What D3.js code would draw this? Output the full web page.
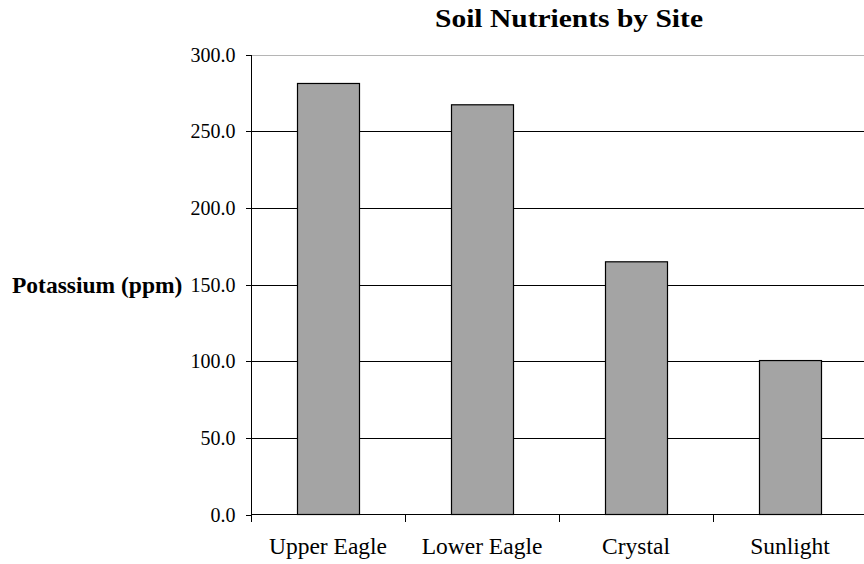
<!DOCTYPE html>
<html>
<head>
<meta charset="utf-8">
<script src="https://cdn.jsdelivr.net/npm/d3@7/dist/d3.min.js"></script>
<style>
  html, body { margin: 0; padding: 0; background: #fff; }
  svg { display: block; }
</style>
</head>
<body>
<svg id="chart" width="864" height="564"></svg>
<script>
// Potassium readings per sampling site
const sites = ["Upper Eagle", "Lower Eagle", "Crystal", "Sunlight"];
const potassium = [281.1, 267.2, 164.8, 100.4];
const yTicks = [0, 50, 100, 150, 200, 250, 300];
const chartTitle = "Soil Nutrients by Site";
const yTitle = "Potassium (ppm)";

const FONT = "'Liberation Serif', 'Times New Roman', Times, 'DejaVu Serif', serif";

const svg = d3.select("#chart");
const W = 864;

const x = d3.scaleBand()
  .domain(sites)
  .range([251, 867])
  .paddingInner(0.597)
  .paddingOuter(0.2985);

const y = d3.scaleLinear()
  .domain([0, 300])
  .range([514.5, 54.5]);

// horizontal gridlines
svg.append("g")
  .selectAll("line")
  .data(yTicks.filter(d => d > 0))
  .join("line")
  .attr("x1", 251).attr("x2", W)
  .attr("y1", d => Math.round(y(d)) + 0.5)
  .attr("y2", d => Math.round(y(d)) + 0.5)
  .attr("stroke", d => d === 300 ? "#b5b5b5" : "#000")
  .attr("stroke-width", 1)
  .attr("shape-rendering", "crispEdges");

// bars
svg.append("g")
  .selectAll("rect")
  .data(sites.map((s, i) => ({ site: s, value: potassium[i] })))
  .join("rect")
  .attr("x", d => Math.round(x(d.site)) + 0.5)
  .attr("y", d => y(d.value))
  .attr("width", Math.round(x.bandwidth()))
  .attr("height", d => y(0) - y(d.value))
  .attr("fill", "#a4a4a4")
  .attr("stroke", "#000")
  .attr("stroke-width", 1.2);

// y axis
const yAxis = d3.axisLeft(y)
  .tickValues(yTicks)
  .tickSize(6)
  .tickPadding(10)
  .tickFormat(d3.format(".1f"));

const gy = svg.append("g")
  .attr("transform", "translate(251.5,0)")
  .call(yAxis)
  .attr("font-family", null)
  .attr("font-size", null);
gy.select(".domain").remove();
gy.selectAll(".tick line").attr("stroke", "#000").attr("shape-rendering", "crispEdges");
gy.selectAll(".tick text")
  .style("font-family", FONT)
  .style("font-size", "20px")
  .attr("fill", "#000")
  .attr("dy", "0.34em");

// y axis line (runs a little below the baseline)
svg.append("line")
  .attr("x1", 251.5).attr("x2", 251.5)
  .attr("y1", y(300)).attr("y2", y(0) + 7)
  .attr("stroke", "#000")
  .attr("shape-rendering", "crispEdges");

// x axis line
svg.append("line")
  .attr("x1", 251).attr("x2", W)
  .attr("y1", y(0)).attr("y2", y(0))
  .attr("stroke", "#000")
  .attr("shape-rendering", "crispEdges");

// category boundary ticks
const bounds = d3.range(sites.length + 1).map(i => x.range()[0] + i * x.step());
svg.append("g")
  .selectAll("line")
  .data(bounds)
  .join("line")
  .attr("x1", d => Math.round(d) + 0.5)
  .attr("x2", d => Math.round(d) + 0.5)
  .attr("y1", y(0)).attr("y2", y(0) + 7)
  .attr("stroke", "#000")
  .attr("shape-rendering", "crispEdges");

// category labels
svg.append("g")
  .selectAll("text")
  .data(sites)
  .join("text")
  .attr("x", d => x(d) + x.bandwidth() / 2)
  .attr("y", 554)
  .attr("text-anchor", "middle")
  .style("font-family", FONT)
  .style("font-size", "23.5px")
  .text(d => d);

// chart title
svg.append("text")
  .attr("x", 569)
  .attr("y", 27)
  .attr("text-anchor", "middle")
  .attr("textLength", 268)
  .attr("lengthAdjust", "spacingAndGlyphs")
  .style("font-family", FONT)
  .style("font-size", "25px")
  .style("font-weight", "bold")
  .text(chartTitle);

// y axis title
svg.append("text")
  .attr("x", 12)
  .attr("y", 292.5)
  .style("font-family", FONT)
  .style("font-size", "23.5px")
  .style("font-weight", "bold")
  .text(yTitle);
</script>
</body>
</html>
